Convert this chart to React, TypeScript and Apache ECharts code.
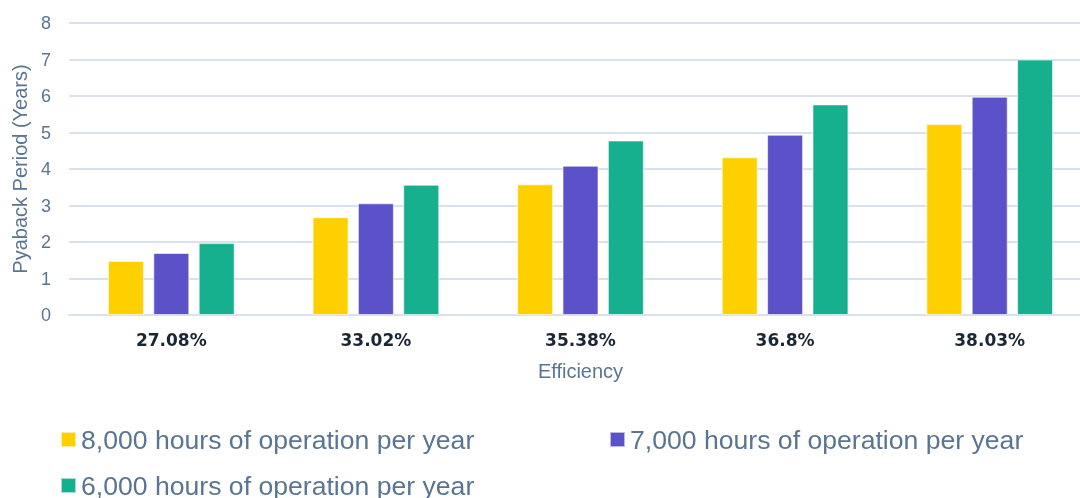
import React, { useEffect, useRef } from "react";
import * as echarts from "echarts";

const categories = ["27.08%", "33.02%", "35.38%", "36.8%", "38.03%"];
const seriesNames = [
  "8,000 hours of operation per year",
  "7,000 hours of operation per year",
  "6,000 hours of operation per year",
];
const hours8000 = [1.48, 2.68, 3.58, 4.32, 5.23];
const hours7000 = [1.7, 3.06, 4.09, 4.94, 5.98];
const hours6000 = [1.97, 3.57, 4.78, 5.77, 7.0];
const colors = ["#FFD000", "#5B51C8", "#17B08E"];
const yTicks = [0, 1, 2, 3, 4, 5, 6, 7, 8];

const slate = "#5a7591";

export default function App() {
  const ref = useRef<HTMLDivElement>(null);
  useEffect(() => {
    if (!ref.current) return;
    const chart = echarts.init(ref.current, null, { renderer: "svg" });
    const values = [hours8000, hours7000, hours6000];
    const legendText = {
      fontFamily: "Liberation Sans, Arial, sans-serif",
      fontSize: 26.6,
      color: slate,
    };
    chart.setOption({
      animation: false,
      color: colors,
      grid: { left: 69, top: 23, width: 1023, height: 292, containLabel: false },
      legend: [
        { data: [seriesNames[0]], left: 60, top: 426, padding: 0, itemWidth: 15, itemHeight: 15, itemGap: 0, icon: "rect", textStyle: legendText },
        { data: [seriesNames[1]], left: 609, top: 426, padding: 0, itemWidth: 15, itemHeight: 15, itemGap: 0, icon: "rect", textStyle: legendText },
        { data: [seriesNames[2]], left: 60, top: 472, padding: 0, itemWidth: 15, itemHeight: 15, itemGap: 0, icon: "rect", textStyle: legendText },
      ],
      xAxis: {
        type: "category",
        data: categories,
        name: "Efficiency",
        nameLocation: "middle",
        nameGap: 46,
        nameTextStyle: { fontFamily: "Liberation Sans, Arial, sans-serif", fontSize: 20, color: slate },
        axisLine: { show: true, lineStyle: { color: "#d9e2ec", width: 2 } },
        axisTick: { show: false },
        axisLabel: {
          fontFamily: "DejaVu Sans, sans-serif",
          fontWeight: "bold",
          fontSize: 17,
          color: "#1a2633",
          margin: 16,
        },
      },
      yAxis: {
        type: "value",
        min: yTicks[0],
        max: yTicks[yTicks.length - 1],
        interval: 1,
        name: "Pyaback Period (Years)",
        nameLocation: "middle",
        nameGap: 39,
        nameTextStyle: { fontFamily: "Liberation Sans, Arial, sans-serif", fontSize: 20, color: slate },
        axisLine: { show: false },
        axisTick: { show: false },
        axisLabel: {
          fontFamily: "Liberation Sans, Arial, sans-serif",
          fontSize: 18,
          color: slate,
          margin: 18,
        },
        splitLine: { lineStyle: { color: "#d9e2ec", width: 2 } },
      },
      series: seriesNames.map((name, i) => ({
        name,
        type: "bar",
        data: values[i],
        barWidth: 36,
        barGap: "26%",
        itemStyle: { color: colors[i], borderColor: "rgba(255,255,255,0.6)", borderWidth: 1 },
      })),
    });
    return () => chart.dispose();
  }, []);
  return (
    <div
      ref={ref}
      style={{ position: "fixed", left: 0, top: 0, width: 1100, height: 498 }}
    />
  );
}
